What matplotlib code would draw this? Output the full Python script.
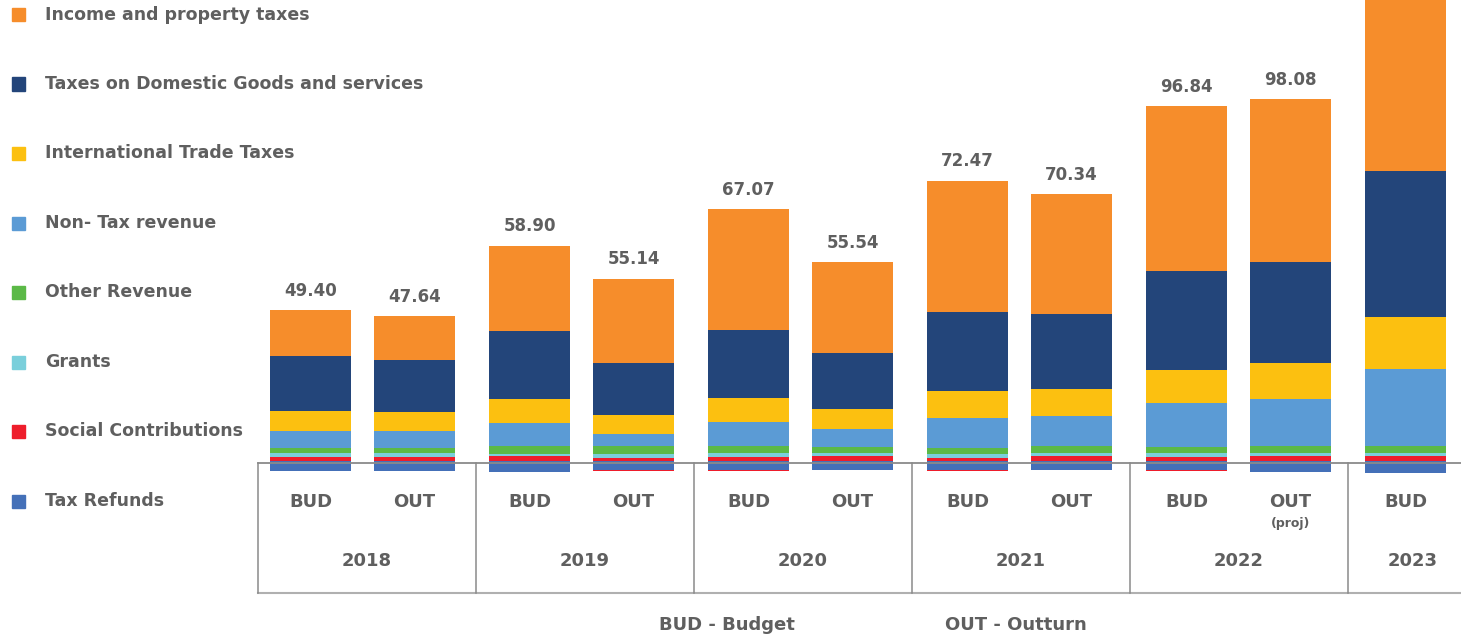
import matplotlib.pyplot as plt
import numpy as np

# ---- data (billions) ----
years = ['2018', '2019', '2020', '2021', '2022', '2023']
kinds = ['BUD', 'OUT', 'BUD', 'OUT', 'BUD', 'OUT', 'BUD', 'OUT', 'BUD', 'OUT', 'BUD']
bar_group = [0, 0, 1, 1, 2, 2, 3, 3, 4, 4, 5]
totals = ['49.40', '47.64', '58.90', '55.14', '67.07', '55.54', '72.47', '70.34', '96.84', '98.08', '']

income = [12.53, 11.99, 23.16, 22.89, 32.97, 24.80, 35.69, 32.70, 44.96, 44.41, 58.00]
domestic = [14.99, 14.17, 18.53, 14.17, 18.53, 15.26, 21.53, 20.44, 26.98, 27.52, 39.78]
trade = [5.45, 5.18, 6.54, 5.18, 6.54, 5.45, 7.36, 7.36, 8.99, 9.81, 14.17]
non_tax = [4.44, 4.44, 6.46, 3.46, 6.46, 4.71, 8.17, 8.17, 11.91, 12.81, 20.98]
other = [1.55, 1.55, 1.99, 1.99, 1.99, 1.83, 1.63, 1.91, 1.72, 1.91, 1.91]
grants = [1.09, 1.09, 0.74, 1.09, 1.09, 0.82, 1.09, 0.82, 1.09, 0.82, 0.82]
social = [0.90, 0.90, 1.09, 0.74, 0.82, 1.09, 0.74, 1.09, 0.82, 1.09, 1.09]
social_neg = [0, 0, 0, 0.27, 0.27, 0, 0.27, 0, 0.27, 0, 0]
refunds = [2.92, 2.92, 3.00, 2.72, 2.64, 2.64, 2.72, 2.64, 2.72, 3.00, 3.54]

legend_names = ['Income and property taxes', 'Taxes on Domestic Goods and services',
                'International Trade Taxes', 'Non- Tax revenue', 'Other Revenue',
                'Grants', 'Social Contributions', 'Tax Refunds']

# ---- styles ----
C_INCOME = '#F68D2B'
C_DOMESTIC = '#23457A'
C_TRADE = '#FCC010'
C_NONTAX = '#5B9BD5'
C_OTHER = '#5BB947'
C_GRANTS = '#7ACFDB'
C_SOCIAL = '#EE1D2B'
C_REFUND = '#4470B8'
TXT = '#5f5f5f'
LINE = '#8a8a8a'
FONT = 'DejaVu Sans'

W, H = 1461, 637
ZERO_PX = 460.5      # pixel row of value 0
PX_PER_UNIT = 3.67   # vertical scale
CELL_PX = 218        # width of one year cell in the table
X0_PX = 366.5        # centre of first table cell
BAR0_PX = 362.6      # centre of first pair of bars
BAR_STEP_PX = 219    # distance between pairs of bars


def py(px):
    """pixel row -> data y"""
    return (ZERO_PX - px) / PX_PER_UNIT


def txt(xv, yv, s, size=13, **kw):
    ax.text(xv, yv, s, ha='center', va='center', fontsize=size,
            fontweight='bold', color=TXT, family=FONT, **kw)


fig = plt.figure(figsize=(W / 100, H / 100), dpi=100)
ax = fig.add_axes([0, 0, 1, 1])
ax.set_xlim(-X0_PX / CELL_PX, (W - X0_PX) / CELL_PX)
ax.set_ylim(py(H), py(0))
ax.axis('off')

offset = 52 / CELL_PX
bar_w = 81 / CELL_PX
centres = (BAR0_PX - X0_PX) / CELL_PX + np.array(bar_group) * BAR_STEP_PX / CELL_PX
x = np.array([c + (-offset if k == 'BUD' else offset) for c, k in zip(centres, kinds)])

stack = [(social, C_SOCIAL), (grants, C_GRANTS), (other, C_OTHER), (non_tax, C_NONTAX),
         (trade, C_TRADE), (domestic, C_DOMESTIC), (income, C_INCOME)]
bottom = np.zeros(len(x))
for vals, col in stack:
    ax.bar(x, vals, bar_w, bottom=bottom, color=col, linewidth=0, zorder=2)
    bottom += np.array(vals)
ax.bar(x, -np.array(refunds), bar_w, color=C_REFUND, linewidth=0, zorder=2)
ax.bar(x, -np.array(social_neg), bar_w, bottom=-np.array(refunds), color=C_SOCIAL,
       linewidth=0, zorder=2)

for xi, top, lab in zip(x, bottom, totals):
    if lab:
        ax.annotate(lab, (xi, top), xytext=(0, 14), textcoords='offset points',
                    ha='center', va='center', fontsize=12, fontweight='bold',
                    color=TXT, family=FONT)

# table under the bars
left = -0.5
right = ax.get_xlim()[1]
ax.plot([left, right], [py(462.5)] * 2, color=LINE, lw=1.3, zorder=3)
ax.plot([left, right], [py(593)] * 2, color='#b0b0b0', lw=1.5, zorder=3)
for g in range(len(years)):
    ax.plot([g - 0.5] * 2, [py(462.5), py(593)], color=LINE, lw=1.1, zorder=3)
for g, yr in enumerate(years):
    # the last cell is cut by the edge, so its year sits under its only bar
    xc = g if g < len(years) - 1 else x[-1] + 0.03
    txt(xc, py(561), yr)
for xi, k in zip(x, kinds):
    txt(xi, py(502), k)
txt(x[9], py(523), '(proj)', size=9)

# legend on the left
leg_colors = [C_INCOME, C_DOMESTIC, C_TRADE, C_NONTAX, C_OTHER, C_GRANTS, C_SOCIAL, C_REFUND]
for i, (name, col) in enumerate(zip(legend_names, leg_colors)):
    yc = 1 - (14.5 + 69.5 * i) / H
    fig.patches.append(plt.Rectangle((12 / W, yc - 6.5 / H), 13 / W, 13 / H,
                                     transform=fig.transFigure, color=col))
    fig.text(45 / W, yc, name, ha='left', va='center', fontsize=12.5,
             fontweight='bold', color=TXT, family=FONT)

fig.text(727 / W, 1 - 625 / H, 'BUD - Budget', ha='center', va='center',
         fontsize=13, fontweight='bold', color=TXT, family=FONT)
fig.text(1016 / W, 1 - 625 / H, 'OUT - Outturn', ha='center', va='center',
         fontsize=13, fontweight='bold', color=TXT, family=FONT)

fig.savefig('out.png', dpi=100)
